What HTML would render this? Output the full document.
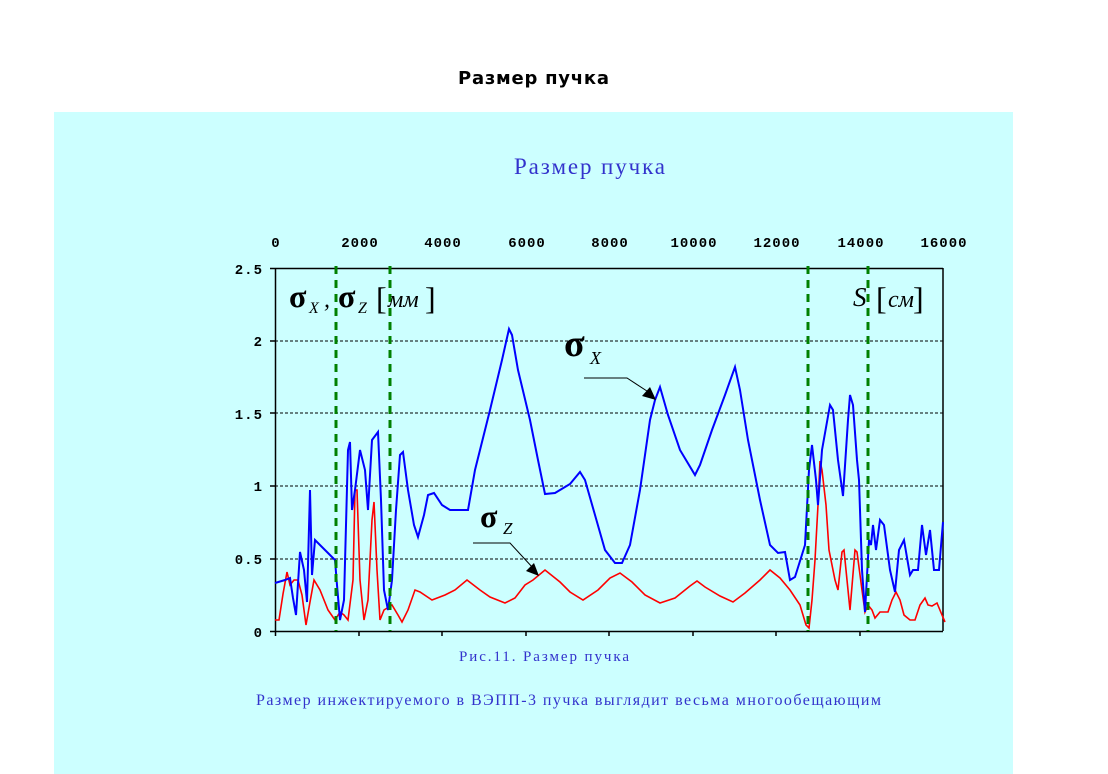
<!DOCTYPE html>
<html><head><meta charset="utf-8"><style>
html,body{margin:0;padding:0;background:#fff;width:1108px;height:774px;overflow:hidden}
</style></head><body>
<svg width="1108" height="774" xmlns="http://www.w3.org/2000/svg" style="position:absolute;left:0;top:0">
<rect x="54" y="112" width="959" height="662" fill="#ccffff"/>
<text x="458" y="84" textLength="151" lengthAdjust="spacing" font-family="DejaVu Sans, Liberation Sans, sans-serif" font-weight="bold" font-size="18" fill="#000">Размер  пучка</text>
<text x="514" y="174" textLength="151" lengthAdjust="spacing" font-family="Liberation Serif, serif" font-size="23" fill="#3333cc">Размер пучка</text>
<g font-family="Liberation Mono, DejaVu Sans Mono, monospace" font-weight="bold" font-size="14" letter-spacing="1" fill="#000" text-anchor="middle">
<text x="276" y="247">0</text><text x="360" y="247">2000</text><text x="443" y="247">4000</text><text x="527" y="247">6000</text><text x="610" y="247">8000</text><text x="694" y="247">10000</text><text x="777" y="247">12000</text><text x="861" y="247">14000</text><text x="944" y="247">16000</text>
</g>
<g font-family="Liberation Mono, DejaVu Sans Mono, monospace" font-weight="bold" font-size="14" letter-spacing="1" fill="#000" text-anchor="end">
<text x="263" y="274">2.5</text><text x="263" y="346">2</text><text x="263" y="419">1.5</text><text x="263" y="491">1</text><text x="263" y="564">0.5</text><text x="263" y="637">0</text>
</g>
<g stroke="#000" stroke-width="1" stroke-dasharray="3,2">
<line x1="275" y1="341" x2="943" y2="341"/><line x1="275" y1="413" x2="943" y2="413"/><line x1="275" y1="486" x2="943" y2="486"/><line x1="275" y1="559" x2="943" y2="559"/>
</g>
<g stroke="#000" stroke-width="1.5" fill="none">
<line x1="270" y1="268.5" x2="943" y2="268.5"/><line x1="943" y1="268" x2="943" y2="631"/>
<line x1="275.5" y1="268" x2="275.5" y2="636"/><line x1="270" y1="631.5" x2="943" y2="631.5"/>
<line x1="359" y1="631" x2="359" y2="636"/><line x1="442" y1="631" x2="442" y2="636"/><line x1="526" y1="631" x2="526" y2="636"/><line x1="609" y1="631" x2="609" y2="636"/><line x1="693" y1="631" x2="693" y2="636"/><line x1="776" y1="631" x2="776" y2="636"/><line x1="860" y1="631" x2="860" y2="636"/>
<line x1="270" y1="341" x2="275" y2="341"/><line x1="270" y1="413" x2="275" y2="413"/><line x1="270" y1="486" x2="275" y2="486"/><line x1="270" y1="559" x2="275" y2="559"/>
</g>
<polyline fill="none" stroke="#ff0000" stroke-width="1.6" points="275,620 279,620 283,594 287,572 290,585 294,580 298,580 302,595 306,625 310,602 314,580 320,590 328,610 335,620 340,612 344,615 348,620 353,580 355,490 357,490 360,580 364,620 368,600 372,520 374,502 377,570 380,620 384,610 392,605 398,615 402,622 408,610 415,590 420,592 432,600 445,595 455,590 467,580 480,590 490,597 505,603 515,598 525,585 533,580 545,570 560,582 570,592 583,600 598,590 610,578 620,573 632,582 645,595 660,603 675,598 690,586 697,581 705,587 720,596 733,602 745,593 760,580 770,570 780,578 790,590 800,605 806,625 809,628 812,600 815,560 818,505 820,461 822,470 826,505 829,550 835,580 838,590 842,552 844,550 848,590 850,610 855,550 857,552 862,590 865,612 868,605 872,610 875,618 880,612 888,612 892,600 896,592 900,600 904,615 910,620 915,620 920,605 925,598 928,605 932,606 937,603 942,615 945,622"/>
<polyline fill="none" stroke="#0000ff" stroke-width="2" points="275,583 285,580 290,578 293,598 296,615 300,552 304,570 307,602 310,490 312,575 315,540 325,550 335,560 337,585 340,620 344,600 348,450 350,442 352,510 355,490 360,450 365,470 368,510 372,440 378,432 381,500 384,590 388,610 392,580 396,510 400,455 403,452 408,490 414,525 418,537 424,515 428,495 434,493 442,505 450,510 468,510 475,470 490,410 502,360 509,329 512,335 518,370 530,420 538,460 545,494 555,493 570,484 580,472 585,480 595,515 605,550 615,563 622,563 630,545 640,490 650,420 655,400 660,387 668,415 680,450 695,475 700,465 712,430 725,395 735,367 740,390 748,440 760,500 770,545 778,553 785,552 790,580 795,577 805,545 809,470 812,445 816,480 818,505 822,450 830,405 833,410 838,460 843,496 848,420 850,395 853,405 857,460 859,480 862,570 865,612 869,540 871,545 873,525 876,550 880,520 884,525 890,570 895,592 899,550 904,540 910,575 913,570 918,570 922,525 926,555 930,530 934,570 939,570 943,522"/>
<g stroke="#008000" stroke-width="3" stroke-dasharray="8,6">
<line x1="336" y1="266" x2="336" y2="631"/><line x1="390" y1="266" x2="390" y2="631"/><line x1="808" y1="266" x2="808" y2="631"/><line x1="868" y1="266" x2="868" y2="631"/>
</g>
<g font-family="Liberation Serif, serif" font-style="italic" fill="#000">
<text x="289" y="307" font-size="32" font-style="normal" font-weight="bold">σ</text><text x="309" y="313" font-size="16">X</text><text x="324" y="307" font-size="24">,</text>
<text x="338" y="307" font-size="32" font-style="normal" font-weight="bold">σ</text><text x="358" y="313" font-size="16">Z</text>
<text x="376" y="309" font-size="32" font-style="normal">[</text><text x="388" y="307" font-size="24">мм</text><text x="425" y="309" font-size="32" font-style="normal">]</text>
<text x="853" y="306" font-size="27">S</text><text x="876" y="309" font-size="32" font-style="normal">[</text><text x="888" y="307" font-size="24">см</text><text x="913" y="309" font-size="32" font-style="normal">]</text>
<text x="564" y="356" font-size="38" font-style="normal" font-weight="bold">σ</text><text x="590" y="364" font-size="18">X</text>
<text x="480" y="527" font-size="32" font-style="normal" font-weight="bold">σ</text><text x="503" y="534" font-size="17">Z</text>
</g>
<g stroke="#000" stroke-width="1" fill="none">
<polyline points="584,378 627,378 650,393"/><polyline points="473,543 510,543 533,568"/>
</g>
<polygon points="656,400 642,396 650,387" fill="#000"/>
<polygon points="539,576 526,571 534,563" fill="#000"/>
<text x="459" y="661" textLength="170" lengthAdjust="spacing" font-family="Liberation Serif, serif" font-size="15" fill="#3333cc">Рис.11. Размер пучка</text>
<text x="256" y="705" textLength="625" lengthAdjust="spacing" font-family="Liberation Serif, serif" font-size="16" fill="#3333cc">Размер инжектируемого в ВЭПП-3  пучка выглядит весьма многообещающим</text>
</svg>
</body></html>
